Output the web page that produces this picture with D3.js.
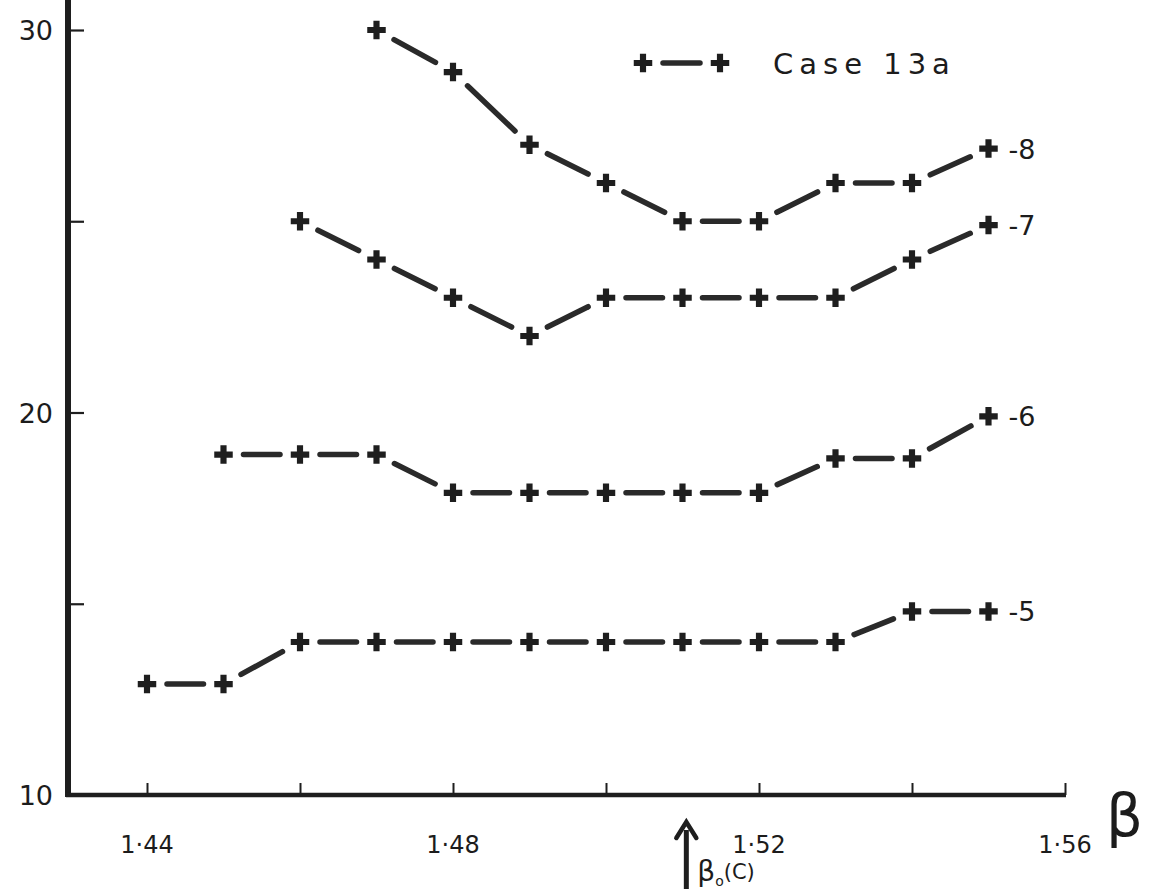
<!DOCTYPE html>
<html><head><meta charset="utf-8">
<script src="https://cdn.jsdelivr.net/npm/d3@7"></script>
<style>
html,body{margin:0;padding:0;background:#fff;}
svg{display:block;}
text{font-family:"DejaVu Sans",sans-serif;fill:#1c1c1c;}
</style></head>
<body>
<svg id="chart" width="1157" height="889"></svg>
<script>
// ---- data ----
const betaValues = [1.44,1.45,1.46,1.47,1.48,1.49,1.50,1.51,1.52,1.53,1.54,1.55];
const series5 = [12.9,12.9,14,14,14,14,14,14,14,14,14.8,14.8];          // from 1.44
const series6 = [18.9,18.9,18.9,17.9,17.9,17.9,17.9,17.9,18.8,18.8,19.9];   // from 1.45
const series7 = [25,24,23,22,23,23,23,23,24,24.9];                         // from 1.46
const series8 = [30,28.9,27,26,25,25,26,26,26.9];                          // from 1.47
const seriesLabels = ["-5","-6","-7","-8"];
const seriesStart = [1.44,1.45,1.46,1.47];
const xTickValues = [1.44,1.46,1.48,1.50,1.52,1.54,1.56];
const xTickLabels = ["1·44","","1·48","","1·52","","1·56"];
const yTickValues = [10,15,20,25,30];
const yTickLabels = ["10","","20","","30"];
const legendLabel = "Case 13a";
const arrowBeta = 1.5105;

const svg = d3.select("#chart");
const x = d3.scaleLinear().domain([1.44,1.56]).range([147,1065]);
const y = d3.scaleLinear().domain([10,30]).range([795,30]);
const ink = "#1e1e1e";

// axes
const yAxis = d3.axisRight(y).tickValues(yTickValues).tickSize(16).tickFormat("");
const gy = svg.append("g").attr("transform","translate(68,0)").call(yAxis);
gy.select(".domain").remove();
gy.selectAll(".tick line").attr("stroke",ink).attr("stroke-width",2.2);
svg.append("line").attr("x1",68).attr("x2",68).attr("y1",0).attr("y2",797)
  .attr("stroke",ink).attr("stroke-width",6);
yTickValues.forEach((v,i)=>{
  if(!yTickLabels[i]) return;
  svg.append("text").attr("x",53).attr("y",y(v)+10).attr("text-anchor","end")
    .attr("font-size",27).text(yTickLabels[i]);
});

const xAxis = d3.axisTop(x).tickValues(xTickValues).tickSize(12).tickFormat("");
const gx = svg.append("g").attr("transform","translate(0,795)").call(xAxis);
gx.select(".domain").remove();
gx.selectAll(".tick line").attr("stroke",ink).attr("stroke-width",2);
svg.append("line").attr("x1",66).attr("x2",x(1.56)+1).attr("y1",795).attr("y2",795)
  .attr("stroke",ink).attr("stroke-width",4.5);
xTickValues.forEach((v,i)=>{
  if(!xTickLabels[i]) return;
  svg.append("text").attr("x",x(v)).attr("y",853).attr("text-anchor","middle")
    .attr("font-size",24).text(xTickLabels[i]);
});
svg.append("text").attr("x",1106).attr("y",836).attr("font-size",58).text("β");

// beta_o(C) arrow
const ax = x(arrowBeta);
svg.append("line").attr("x1",ax).attr("x2",ax).attr("y1",830).attr("y2",889)
  .attr("stroke",ink).attr("stroke-width",5);
svg.append("path").attr("d",`M${ax-10},${838} L${ax},${822} L${ax+10},${838}`)
  .attr("fill","none").attr("stroke",ink).attr("stroke-width",4.5).attr("stroke-linecap","round");
const bt = svg.append("text").attr("x",ax+11).attr("y",881).attr("font-size",28);
bt.append("tspan").text("β");
bt.append("tspan").attr("font-size",14).attr("dy",5).text("o");
bt.append("tspan").attr("font-size",21).attr("dy",-7).text("(C)");

// series
const allSeries = [series5,series6,series7,series8];
const cross = d3.symbol().type(d3.symbolCross).size(190);
const gap = 20;
function dash(g,p,q){
  const dx=q[0]-p[0], dy=q[1]-p[1], L=Math.hypot(dx,dy);
  const ux=dx/L, uy=dy/L;
  g.append("line").attr("x1",p[0]+ux*gap).attr("y1",p[1]+uy*gap)
    .attr("x2",q[0]-ux*gap).attr("y2",q[1]-uy*gap)
    .attr("stroke","#2a2a2a").attr("stroke-width",5.5).attr("stroke-linecap","round");
}
allSeries.forEach((vals,si)=>{
  const i0 = betaValues.findIndex(b=>Math.abs(b-seriesStart[si])<1e-9);
  const pts = vals.map((v,k)=>[x(betaValues[i0+k]), y(v)]);
  const g = svg.append("g");
  for(let k=0;k<pts.length-1;k++) dash(g,pts[k],pts[k+1]);
  g.selectAll("path.c").data(pts).enter().append("path").attr("class","c")
    .attr("d",cross).attr("transform",d=>`translate(${d[0]},${d[1]})`).attr("fill",ink);
  const last = pts[pts.length-1];
  svg.append("text").attr("x",last[0]+20).attr("y",last[1]+10).attr("font-size",27).text(seriesLabels[si]);
});

// legend
const lg = svg.append("g");
const lp = [[643,63],[720,63]];
dash(lg,lp[0],lp[1]);
lg.selectAll("path").data(lp).enter().append("path").attr("d",cross)
  .attr("transform",d=>`translate(${d[0]},${d[1]})`).attr("fill",ink);
svg.append("text").attr("x",773).attr("y",74).attr("font-size",29)
  .attr("letter-spacing",6).text(legendLabel);
</script>
</body></html>
